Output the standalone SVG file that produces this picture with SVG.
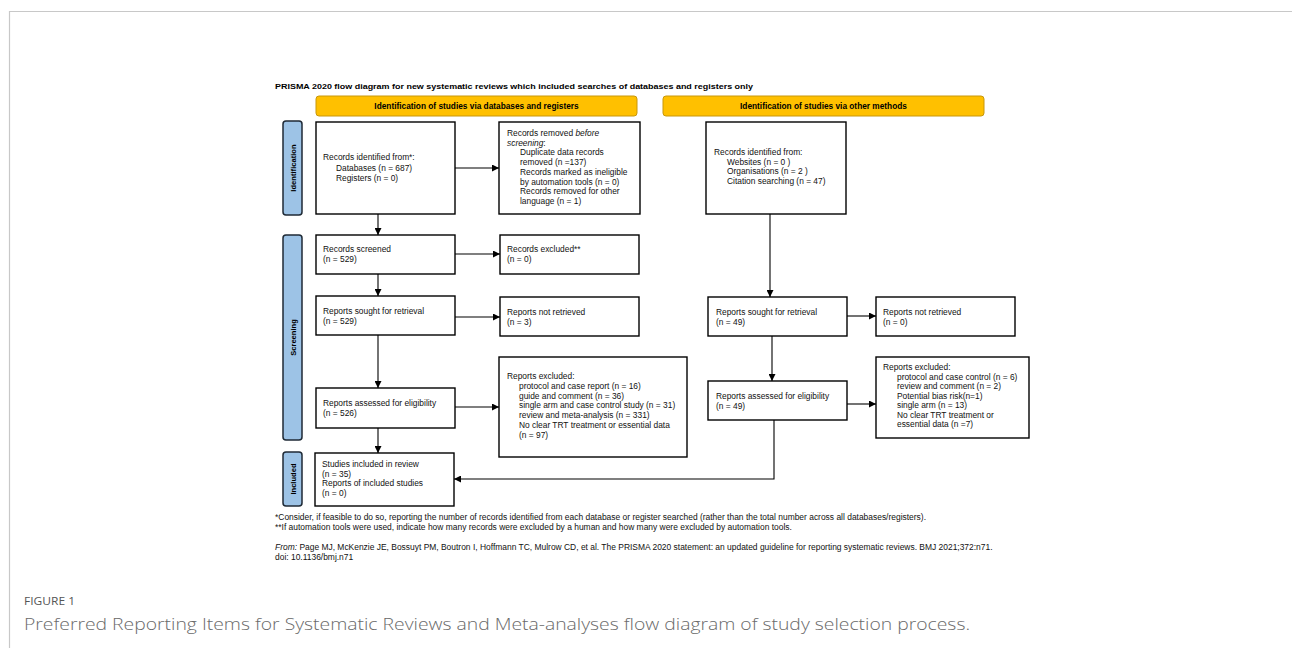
<svg xmlns="http://www.w3.org/2000/svg" width="1292" height="648" viewBox="0 0 1292 648">
<defs>
<style>
.box{fill:#fff;stroke:#000;stroke-width:1.4}
.hdr{fill:#FFC000;stroke:#C8970A;stroke-width:1}
.side{fill:#9DC3E6;stroke:#1F2A36;stroke-width:1.5}
.t{font-family:"Liberation Sans",Arial,sans-serif;font-size:8.4px;fill:#111}
.b{font-family:"Liberation Sans",Arial,sans-serif;font-size:7.6px;font-weight:bold;fill:#000}
.hb{font-size:8.3px}
.fn{font-family:"Liberation Sans",Arial,sans-serif;font-size:8.45px;fill:#111}
.c{fill:none;stroke:#000;stroke-width:1.1}
</style>
<marker id="ah" viewBox="0 0 10 10" refX="10" refY="5" markerWidth="7" markerHeight="7" markerUnits="userSpaceOnUse" orient="auto">
<path d="M0,0 L10,5 L0,10 z" fill="#000"/>
</marker>
</defs>
<rect width="1292" height="648" fill="#fff"/>
<path d="M9.5,648 L9.5,11.5 L1292,11.5" fill="none" stroke="#c8c8c8" stroke-width="1.2"/>

<text x="275" y="89" class="b" textLength="478" lengthAdjust="spacingAndGlyphs">PRISMA 2020 flow diagram for new systematic reviews which included searches of databases and registers only</text>

<g id="hdr1"><rect x="316" y="96" width="321" height="20" rx="3" class="hdr"/><text x="476.5" y="109" text-anchor="middle" class="b hb">Identification of studies via databases and registers</text></g>
<g id="hdr2"><rect x="663" y="96" width="321" height="20" rx="3" class="hdr"/><text x="823.5" y="109" text-anchor="middle" class="b hb">Identification of studies via other methods</text></g>

<g id="side-ident"><rect x="283" y="121" width="19" height="94" rx="3" class="side"/><text transform="translate(295.5,168) rotate(-90)" text-anchor="middle" class="b">Identification</text></g>
<g id="side-screen"><rect x="283" y="235" width="19" height="205" rx="3" class="side"/><text transform="translate(295.5,337.5) rotate(-90)" text-anchor="middle" class="b">Screening</text></g>
<g id="side-incl"><rect x="283" y="452" width="19" height="54" rx="3" class="side"/><text transform="translate(295.5,479) rotate(-90)" text-anchor="middle" class="b">Included</text></g>

<g id="n-identified">
<rect x="316" y="122" width="139" height="92" class="box"/>
<text class="t"><tspan x="323" y="160">Records identified from*:</tspan><tspan x="336" y="170.5">Databases (n = 687)</tspan><tspan x="336" y="181">Registers (n = 0)</tspan></text>
</g>
<g id="n-removed">
<rect x="499" y="122" width="141" height="92" class="box"/>
<text class="t"><tspan x="507" y="136">Records removed <tspan font-style="italic">before</tspan></tspan><tspan x="507" y="145.7" font-style="italic">screening</tspan><tspan>:</tspan><tspan x="520" y="155.4">Duplicate data records</tspan><tspan x="520" y="165.1">removed  (n =137)</tspan><tspan x="520" y="174.8">Records marked as ineligible</tspan><tspan x="520" y="184.5">by automation tools (n = 0)</tspan><tspan x="520" y="194.2">Records removed for other</tspan><tspan x="520" y="203.9">language (n = 1)</tspan></text>
</g>
<g id="n-other-identified">
<rect x="706" y="122" width="140" height="92" class="box"/>
<text class="t"><tspan x="714" y="155">Records identified from:</tspan><tspan x="727" y="164.7">Websites (n = 0 )</tspan><tspan x="727" y="174.4">Organisations (n = 2 )</tspan><tspan x="727" y="184.1">Citation searching (n = 47)</tspan></text>
</g>
<g id="n-screened">
<rect x="316" y="235" width="139" height="39" class="box"/>
<text class="t"><tspan x="323" y="252">Records screened</tspan><tspan x="323" y="262">(n = 529)</tspan></text>
</g>
<g id="n-excluded">
<rect x="500" y="235" width="139" height="39" class="box"/>
<text class="t"><tspan x="507" y="252">Records excluded**</tspan><tspan x="507" y="262">(n = 0)</tspan></text>
</g>
<g id="n-sought">
<rect x="316" y="296" width="139" height="39" class="box"/>
<text class="t"><tspan x="323" y="314">Reports sought for retrieval</tspan><tspan x="323" y="324">(n = 529)</tspan></text>
</g>
<g id="n-notretrieved">
<rect x="500" y="297" width="139" height="39" class="box"/>
<text class="t"><tspan x="507" y="315">Reports not retrieved</tspan><tspan x="507" y="325">(n = 3)</tspan></text>
</g>
<g id="n-assessed">
<rect x="316" y="388" width="139" height="40" class="box"/>
<text class="t"><tspan x="323" y="406">Reports assessed for eligibility</tspan><tspan x="323" y="416">(n = 526)</tspan></text>
</g>
<g id="n-reports-excluded">
<rect x="499" y="357" width="188" height="100" class="box"/>
<text class="t"><tspan x="507" y="379">Reports excluded:</tspan><tspan x="519" y="388.8">protocol and case report (n = 16)</tspan><tspan x="519" y="398.6">guide and comment (n = 36)</tspan><tspan x="519" y="408.4">single arm and case control study (n = 31)</tspan><tspan x="519" y="418.2">review and meta-analysis (n = 331)</tspan><tspan x="519" y="428">No clear TRT treatment or essential data</tspan><tspan x="519" y="437.8">(n = 97)</tspan></text>
</g>
<g id="n-included">
<rect x="315" y="453" width="139" height="53" class="box"/>
<text class="t"><tspan x="322" y="467">Studies included in review</tspan><tspan x="322" y="476.5">(n = 35)</tspan><tspan x="322" y="486">Reports of included studies</tspan><tspan x="322" y="495.5">(n = 0)</tspan></text>
</g>
<g id="n-other-sought">
<rect x="708" y="297" width="139" height="39" class="box"/>
<text class="t"><tspan x="716" y="315">Reports sought for retrieval</tspan><tspan x="716" y="325">(n = 49)</tspan></text>
</g>
<g id="n-other-notretrieved">
<rect x="876" y="297" width="139" height="39" class="box"/>
<text class="t"><tspan x="883" y="315">Reports not retrieved</tspan><tspan x="883" y="325">(n = 0)</tspan></text>
</g>
<g id="n-other-assessed">
<rect x="708" y="381" width="139" height="39" class="box"/>
<text class="t"><tspan x="716" y="399">Reports assessed for eligibility</tspan><tspan x="716" y="409">(n = 49)</tspan></text>
</g>
<g id="n-other-excluded">
<rect x="876" y="357" width="153" height="81" class="box"/>
<text class="t"><tspan x="883" y="370">Reports excluded:</tspan><tspan x="897" y="379.5">protocol and case control (n = 6)</tspan><tspan x="897" y="389">review and comment (n = 2)</tspan><tspan x="897" y="398.5">Potential bias risk(n=1)</tspan><tspan x="897" y="408">single arm (n = 13)</tspan><tspan x="897" y="417.5">No clear TRT treatment or</tspan><tspan x="897" y="427">essential data (n =7)</tspan></text>
</g>

<g id="connectors">
<path class="c" d="M378,214 V235" marker-end="url(#ah)"/>
<path class="c" d="M455,168 H499" marker-end="url(#ah)"/>
<path class="c" d="M455,254 H500" marker-end="url(#ah)"/>
<path class="c" d="M378,274 V296" marker-end="url(#ah)"/>
<path class="c" d="M455,317 H500" marker-end="url(#ah)"/>
<path class="c" d="M378,335 V388" marker-end="url(#ah)"/>
<path class="c" d="M455,407 H499" marker-end="url(#ah)"/>
<path class="c" d="M378,428 V453" marker-end="url(#ah)"/>
<path class="c" d="M770,214 V297" marker-end="url(#ah)"/>
<path class="c" d="M847,316 H876" marker-end="url(#ah)"/>
<path class="c" d="M772,336 V381" marker-end="url(#ah)"/>
<path class="c" d="M847,404 H876" marker-end="url(#ah)"/>
<path class="c" d="M774,420 V479 H454" marker-end="url(#ah)"/>
</g>

<text x="275" y="520" class="fn">*Consider, if feasible to do so, reporting the number of records identified from each database or register searched (rather than the total number across all databases/registers).</text>
<text x="275" y="530" class="fn">**If automation tools were used, indicate how many records were excluded by a human and how many were excluded by automation tools.</text>
<text x="275" y="550" class="fn"><tspan font-style="italic">From:</tspan>  Page MJ, McKenzie JE, Bossuyt PM, Boutron I, Hoffmann TC, Mulrow CD, et al. The PRISMA 2020 statement: an updated guideline for reporting systematic reviews. BMJ 2021;372:n71.</text>
<text x="275" y="560" class="fn">doi: 10.1136/bmj.n71</text>

<text x="24" y="605" font-family="'Open Sans','Noto Sans',sans-serif" font-size="10.5" fill="#555" textLength="51" lengthAdjust="spacingAndGlyphs">FIGURE 1</text>
<text x="24" y="630" font-family="'Open Sans','Noto Sans',sans-serif" font-weight="300" font-size="16.5" fill="#6a6a6a" textLength="946" lengthAdjust="spacingAndGlyphs">Preferred Reporting Items for Systematic Reviews and Meta-analyses flow diagram of study selection process.</text>
</svg>
